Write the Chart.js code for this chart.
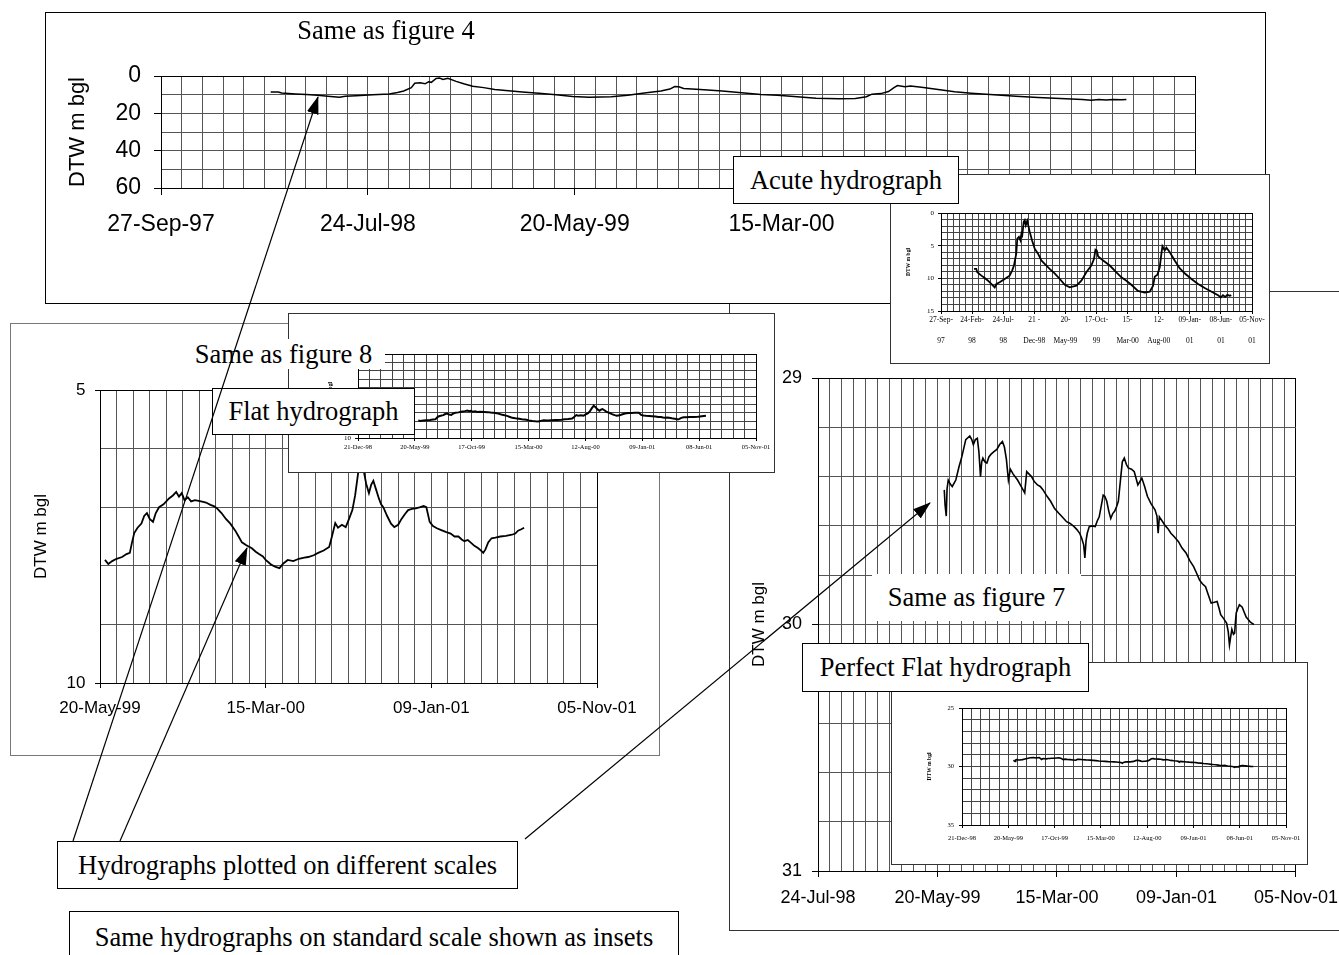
<!DOCTYPE html>
<html>
<head>
<meta charset="utf-8">
<title>Hydrographs plotted on different scales</title>
<script src="https://cdn.jsdelivr.net/npm/chart.js@4.4.1/dist/chart.umd.min.js"></script>
<style>
  html, body { margin: 0; padding: 0; background: #fff; }
  body { position: relative; width: 1339px; height: 955px; overflow: hidden; }
  .frame { position: absolute; background: #fff; border: 1px solid #000; box-sizing: border-box; }
  .frame canvas { position: absolute; left: 0; top: 0; }
  .tag {
    position: absolute; box-sizing: border-box; background: #fff; color: #000;
    font-family: 'Liberation Serif', 'Times New Roman', serif; font-size: 26.5px;
    white-space: nowrap; display: flex; align-items: center; justify-content: center;
    z-index: 10;
  }
  .tag.boxed { border: 1px solid #000; }
  .tag.plain { background: transparent; }
  #arrows { position: absolute; left: 0; top: 0; z-index: 20; }
</style>
</head>
<body>

<!-- frames, back to front -->
<div class="frame" id="frame7" style="left:729px;top:291px;width:620px;height:640px;z-index:1;border-color:#333"></div>
<div class="frame" id="frame4" style="left:45px;top:12px;width:1221px;height:292px;z-index:2"></div>
<div class="frame" id="inset4" style="left:890px;top:174px;width:380px;height:190px;z-index:3;border-color:#333"></div>
<div class="frame" id="frame8" style="left:10px;top:323px;width:650px;height:433px;z-index:4;border-color:#777"></div>
<div class="frame" id="inset8" style="left:288px;top:313px;width:487px;height:160px;z-index:5;border-color:#333"></div>
<div class="frame" id="inset7" style="left:891px;top:662px;width:417px;height:203px;z-index:6;border-color:#333"></div>

<!-- captions -->
<div class="tag plain" style="left:286px;top:13px;width:200px;height:34px;">Same as figure 4</div>
<div class="tag boxed" style="left:733px;top:156px;width:226px;height:48px;">Acute hydrograph</div>
<div class="tag" style="left:182px;top:339px;width:203px;height:30px;">Same as figure 8</div>
<div class="tag boxed" style="left:212px;top:388px;width:203px;height:47px;">Flat hydrograph</div>
<div class="tag" style="left:872px;top:574px;width:209px;height:47px;">Same as figure 7</div>
<div class="tag boxed" style="left:802px;top:643px;width:287px;height:49px;">Perfect Flat hydrograph</div>
<div class="tag boxed" style="left:57px;top:841px;width:461px;height:48px;">Hydrographs plotted on different scales</div>
<div class="tag boxed" style="left:69px;top:911px;width:610px;height:52px;">Same hydrographs on standard scale shown as insets</div>

<svg id="arrows" width="1339" height="955" viewBox="0 0 1339 955">
  <defs>
    <marker id="head" markerWidth="18" markerHeight="12" refX="17" refY="6" orient="auto" markerUnits="userSpaceOnUse">
      <path d="M0,0 L18,6 L0,12 Z" fill="#000"/>
    </marker>
  </defs>
  <line x1="73" y1="841" x2="318" y2="97" stroke="#000" stroke-width="1.2" marker-end="url(#head)"/>
  <line x1="120" y1="841" x2="247" y2="548" stroke="#000" stroke-width="1.2" marker-end="url(#head)"/>
  <line x1="525" y1="839" x2="930" y2="503" stroke="#000" stroke-width="1.2" marker-end="url(#head)"/>
</svg>

<script>
// Dates are spreadsheet serial day numbers (27-Sep-97 = 35700); depths are DTW in m below ground level.

// Figure 4 well: acute hydrograph
const fig4Dates = [
  35859, 35870, 35875, 35895, 35911, 35927, 35946, 35959, 35967, 35983,
  36007, 36031, 36043, 36052, 36063, 36068, 36076, 36083, 36088, 36092,
  36099, 36104, 36109, 36116, 36128, 36139, 36152, 36168, 36184, 36200,
  36224, 36248, 36273, 36297, 36321, 36353, 36377, 36401, 36425, 36438,
  36445, 36451, 36458, 36482, 36514, 36546, 36570, 36594, 36618, 36650,
  36683, 36707, 36723, 36731, 36744, 36755, 36763, 36768, 36779, 36787,
  36803, 36827, 36851, 36875, 36908, 36940, 36972, 37012, 37036, 37049,
  37060, 37071, 37081, 37093, 37100
];
const fig4Depth = [
  8.55, 8.55, 9.07, 9.59, 9.95, 10.36, 10.98, 11.39, 10.87, 10.61,
  10.10, 9.59, 8.81, 8.04, 6.23, 3.91, 3.66, 4.17, 3.14, 3.40,
  1.34, 1.08, 1.86, 1.19, 2.89, 4.17, 5.46, 6.23, 7.27, 7.78,
  8.55, 9.23, 10.10, 10.98, 11.39, 11.13, 10.36, 9.07, 8.04, 7.01,
  5.62, 5.72, 6.65, 7.27, 8.04, 9.07, 9.85, 10.36, 10.98, 11.91,
  12.17, 12.06, 11.13, 9.74, 9.43, 8.30, 6.23, 5.10, 5.72, 5.31,
  5.98, 7.27, 8.45, 9.23, 10.10, 10.87, 11.49, 12.17, 12.58, 12.94,
  12.58, 12.84, 12.53, 12.68, 12.58
];

// Figure 8 well: flat hydrograph
const fig8Dates = [
  36309, 36315, 36322, 36330, 36340, 36348, 36354, 36358, 36362, 36368,
  36375, 36380, 36385, 36390, 36396, 36401, 36407, 36415, 36425, 36432,
  36438, 36443, 36448, 36453, 36459, 36465, 36472, 36483, 36492, 36500,
  36506, 36512, 36520, 36528, 36536, 36545, 36551, 36557, 36565, 36575,
  36582, 36588, 36595, 36600, 36605, 36610, 36618, 36625, 36632, 36640,
  36650, 36660, 36670, 36677, 36687, 36695, 36705, 36715, 36720, 36726,
  36731, 36738, 36745, 36751, 36757, 36762, 36767, 36772, 36777, 36782,
  36787, 36791, 36795, 36800, 36805, 36809, 36813, 36820, 36827, 36833,
  36840, 36846, 36852, 36858, 36865, 36872, 36880, 36886, 36891, 36897,
  36903, 36910, 36918, 36926, 36935, 36942, 36949, 36955, 36960, 36966,
  36971, 36978, 36985, 36990, 36994, 36998, 37003, 37009, 37016, 37025,
  37035, 37046, 37052, 37057, 37062, 37068
];
const fig8Depth = [
  7.90, 7.97, 7.92, 7.88, 7.85, 7.80, 7.78, 7.60, 7.44, 7.35,
  7.28, 7.15, 7.10, 7.20, 7.25, 7.10, 7.00, 6.95, 6.85, 6.80,
  6.74, 6.82, 6.76, 6.88, 6.83, 6.90, 6.88, 6.90, 6.92, 6.96,
  6.98, 7.02, 7.10, 7.20, 7.28, 7.40, 7.50, 7.60, 7.65, 7.70,
  7.76, 7.80, 7.84, 7.90, 7.94, 7.98, 8.02, 8.04, 7.96, 7.90,
  7.92, 7.88, 7.86, 7.85, 7.82, 7.78, 7.74, 7.68, 7.50, 7.27,
  7.35, 7.30, 7.34, 7.20, 7.05, 6.80, 6.45, 6.15, 6.35, 6.60,
  6.76, 6.62, 6.55, 6.70, 6.85, 6.95, 7.00, 7.15, 7.28, 7.34,
  7.30, 7.20, 7.12, 7.05, 7.03, 7.02, 7.00, 6.98, 7.00, 7.25,
  7.32, 7.36, 7.39, 7.42, 7.45, 7.50, 7.50, 7.55, 7.58, 7.56,
  7.60, 7.66, 7.70, 7.74, 7.78, 7.72, 7.60, 7.53, 7.52, 7.50,
  7.49, 7.47, 7.45, 7.40, 7.38, 7.35
];

// Figure 7 well: perfect flat hydrograph
const fig7Dates = [
  36317, 36319, 36322, 36324, 36327, 36332, 36337, 36346, 36354, 36361,
  36371, 36381, 36386, 36390, 36395, 36400, 36404, 36408, 36411, 36414,
  36419, 36424, 36429, 36434, 36441, 36449, 36456, 36463, 36468, 36473,
  36478, 36483, 36490, 36501, 36510, 36519, 36524, 36530, 36536, 36543,
  36551, 36558, 36565, 36575, 36584, 36594, 36604, 36614, 36624, 36633,
  36643, 36650, 36657, 36662, 36667, 36670, 36673, 36676, 36681, 36688,
  36696, 36701, 36706, 36711, 36716, 36720, 36725, 36730, 36735, 36740,
  36745, 36750, 36754, 36759, 36764, 36769, 36774, 36779, 36787, 36794,
  36799, 36803, 36808, 36813, 36820, 36827, 36836, 36846, 36851, 36854,
  36857, 36864, 36871, 36878, 36886, 36895, 36905, 36914, 36924, 36933,
  36943, 36950, 36958, 36965, 36973, 36980, 36987, 36995, 37002, 37007,
  37011, 37018, 37026, 37030, 37033, 37036, 37039, 37043, 37046, 37048,
  37050, 37054, 37058, 37062, 37065, 37070, 37075, 37080, 37085, 37090, 37094
];
const fig7Depth = [
  29.454, 29.515, 29.56, 29.45, 29.414, 29.43, 29.44, 29.414, 29.36, 29.32,
  29.25, 29.235, 29.25, 29.27, 29.25, 29.245, 29.30, 29.40, 29.34, 29.325,
  29.34, 29.345, 29.32, 29.31, 29.30, 29.29, 29.27, 29.258, 29.28, 29.33,
  29.414, 29.37, 29.39, 29.414, 29.44, 29.466, 29.38, 29.39, 29.40, 29.42,
  29.434, 29.44, 29.454, 29.48, 29.50, 29.53, 29.548, 29.565, 29.583, 29.59,
  29.603, 29.615, 29.63, 29.65, 29.677, 29.73, 29.66, 29.63, 29.603, 29.60,
  29.603, 29.58, 29.563, 29.52, 29.475, 29.48, 29.50, 29.54, 29.57, 29.55,
  29.54, 29.52, 29.50, 29.42, 29.34, 29.325, 29.35, 29.365, 29.37, 29.38,
  29.41, 29.434, 29.42, 29.406, 29.44, 29.48, 29.51, 29.535, 29.56, 29.63,
  29.563, 29.58, 29.597, 29.61, 29.63, 29.645, 29.664, 29.69, 29.71, 29.74,
  29.765, 29.79, 29.82, 29.835, 29.847, 29.88, 29.913, 29.91, 29.907, 29.935,
  29.96, 29.975, 29.995, 30.03, 30.083, 30.05, 30.02, 30.04, 30.035, 29.99,
  29.953, 29.935, 29.92, 29.925, 29.93, 29.95, 29.97, 29.98, 29.989, 29.995, 30.0
];

// Date tick labels (every 300 days on the large plots, every 150 days on the insets)
const ticks300From97 = ['27-Sep-97', '24-Jul-98', '20-May-99', '15-Mar-00', '09-Jan-01', '05-Nov-01'];
const ticks300From98 = ['24-Jul-98', '20-May-99', '15-Mar-00', '09-Jan-01', '05-Nov-01'];
const ticks300From99 = ['20-May-99', '15-Mar-00', '09-Jan-01', '05-Nov-01'];
const ticks150From97 = [
  ['27-Sep-', '97'], ['24-Feb-', '98'], ['24-Jul-', '98'], ['21 -', 'Dec-98'],
  ['20-', 'May-99'], ['17-Oct-', '99'], ['15-', 'Mar-00'], ['12-', 'Aug-00'],
  ['09-Jan-', '01'], ['08-Jun-', '01'], ['05-Nov-', '01']
];
const ticks150From98 = ['21-Dec-98', '20-May-99', '17-Oct-99', '15-Mar-00', '12-Aug-00', '09-Jan-01', '08-Jun-01', '05-Nov-01'];

const SANS = "'Liberation Sans', Arial, sans-serif";
const SERIF = "'Liberation Serif', 'Times New Roman', serif";
Chart.defaults.font.family = SANS;
Chart.defaults.color = '#000';

// One hydrograph panel: plot box given in page pixels, axis layout pinned with afterFit.
function hydrograph(frameId, o) {
  const frame = document.getElementById(frameId);
  const ox = frame.offsetLeft + 1, oy = frame.offsetTop + 1;
  const W = frame.clientWidth, H = frame.clientHeight;
  const cv = document.createElement('canvas');
  cv.width = W; cv.height = H;
  cv.style.width = W + 'px'; cv.style.height = H + 'px';
  frame.appendChild(cv);

  const [pl, pt, pr, pb] = o.plot;
  const padLeft = o.yTitleX - ox - o.yTitleSize / 2;
  const yAxisW = pl - ox - padLeft;
  const xAxisH = oy + H - pb;

  const xTicks = [];
  for (let v = o.xMin; v <= o.xMax; v += o.xMinor) xTicks.push(v);
  const xEvery = Math.round(o.xMajor / o.xMinor);
  const nY = Math.round((o.yMax - o.yMin) / o.yMinor);
  const yTicks = [];
  for (let i = 0; i <= nY; i++) yTicks.push(Math.round((o.yMin + i * o.yMinor) * 1000) / 1000);
  const yEvery = Math.round(o.yMajor / o.yMinor);

  const gridColor = (n) => (ctx) => (ctx.index === 0 || ctx.index === n) ? '#000' : o.grid;

  new Chart(cv, {
    type: 'line',
    data: {
      datasets: [{
        data: o.x.map((x, i) => ({ x, y: o.y[i] })),
        borderColor: '#000',
        borderWidth: o.lineWidth,
        pointRadius: 0,
        tension: 0,
        fill: false
      }]
    },
    options: {
      responsive: false,
      animation: false,
      devicePixelRatio: 1,
      events: [],
      layout: { padding: { left: padLeft, top: pt - oy, right: ox + W - pr, bottom: 0 } },
      plugins: { legend: { display: false }, tooltip: { enabled: false } },
      scales: {
        x: {
          type: 'linear', min: o.xMin, max: o.xMax, offset: false,
          afterBuildTicks: (s) => { s.ticks = xTicks.map(v => ({ value: v })); },
          afterFit: (s) => { s.height = xAxisH; },
          ticks: {
            autoSkip: false, maxRotation: 0, minRotation: 0,
            padding: o.xPad, font: o.xFont, color: '#000',
            callback: (v, i) => (i % xEvery === 0 ? o.xLabels[i / xEvery] : '')
          },
          grid: {
            color: gridColor(xTicks.length - 1), lineWidth: 1,
            tickLength: o.tick,
            tickColor: (ctx) => (ctx.index % xEvery === 0 ? '#000' : 'rgba(0,0,0,0)')
          },
          border: { color: '#000', width: 1 }
        },
        y: {
          type: 'linear', min: o.yMin, max: o.yMax, reverse: true,
          afterBuildTicks: (s) => { s.ticks = yTicks.map(v => ({ value: v })); },
          afterFit: (s) => { s.width = yAxisW; },
          ticks: {
            autoSkip: false, padding: o.yPad, font: o.yFont, color: '#000',
            callback: (v, i) => (i % yEvery === 0 ? String(v) : '')
          },
          grid: {
            color: gridColor(yTicks.length - 1), lineWidth: 1,
            tickLength: o.tick,
            tickColor: (ctx) => (ctx.index % yEvery === 0 ? '#000' : 'rgba(0,0,0,0)')
          },
          border: { color: '#000', width: 1 },
          title: {
            display: true, text: 'DTW m bgl', color: '#000', padding: 0,
            font: Object.assign({ lineHeight: 1, size: o.yTitleSize }, o.yTitleFont)
          }
        }
      }
    }
  });
}

// Figure 7 panel (29 to 31 m)
hydrograph('frame7', {
  plot: [818, 378, 1298, 871],
  x: fig7Dates, y: fig7Depth, lineWidth: 1.6, grid: '#555',
  xMin: 36000, xMax: 37200, xMinor: 30, xMajor: 300, xLabels: ticks300From98,
  xPad: 10, xFont: { size: 18, family: SANS },
  yMin: 29, yMax: 31, yMinor: 0.2, yMajor: 1, yPad: 10, yFont: { size: 18, family: SANS },
  tick: 6, yTitleX: 759, yTitleSize: 17, yTitleFont: { family: SANS }
});

// Figure 4 panel (0 to 60 m)
hydrograph('frame4', {
  plot: [161, 76, 1205, 188],
  x: fig4Dates, y: fig4Depth, lineWidth: 1.5, grid: '#555',
  xMin: 35700, xMax: 37200, xMinor: 30, xMajor: 300, xLabels: ticks300From97,
  xPad: 16, xFont: { size: 23, family: SANS },
  yMin: 0, yMax: 60, yMinor: 10, yMajor: 20, yPad: 13, yFont: { size: 23, family: SANS },
  tick: 7, yTitleX: 77.5, yTitleSize: 22, yTitleFont: { family: SANS }
});

// Figure 4 on the standard 15 m scale
hydrograph('inset4', {
  plot: [941, 213, 1252, 311],
  x: fig4Dates, y: fig4Depth, lineWidth: 1.8, grid: '#444',
  xMin: 35700, xMax: 37200, xMinor: 30, xMajor: 150, xLabels: ticks150From97,
  xPad: -4.5, xFont: { size: 7.5, family: SERIF, lineHeight: '21px' },
  yMin: 0, yMax: 15, yMinor: 1, yMajor: 5, yPad: 4, yFont: { size: 7, family: SERIF },
  tick: 3, yTitleX: 909, yTitleSize: 5.5, yTitleFont: { family: SERIF, weight: 'bold' }
});

// Figure 8 panel (5 to 10 m)
hydrograph('frame8', {
  plot: [100, 390, 597, 683],
  x: fig8Dates, y: fig8Depth, lineWidth: 1.8, grid: '#555',
  xMin: 36300, xMax: 37200, xMinor: 30, xMajor: 300, xLabels: ticks300From99,
  xPad: 10.5, xFont: { size: 17, family: SANS },
  yMin: 5, yMax: 10, yMinor: 1, yMajor: 5, yPad: 9.5, yFont: { size: 17, family: SANS },
  tick: 5, yTitleX: 41, yTitleSize: 17, yTitleFont: { family: SANS }
});

// Figure 8 on the standard scale
hydrograph('inset8', {
  plot: [358, 354, 756, 438],
  x: fig8Dates, y: fig8Depth, lineWidth: 2, grid: '#444',
  xMin: 36150, xMax: 37200, xMinor: 30, xMajor: 150, xLabels: ticks150From98,
  xPad: 2, xFont: { size: 6.5, family: SERIF },
  yMin: 0, yMax: 10, yMinor: 1, yMajor: 5, yPad: 4, yFont: { size: 7, family: SERIF },
  tick: 3, yTitleX: 331, yTitleSize: 5.5, yTitleFont: { family: SERIF, weight: 'bold' }
});

// Figure 7 on the standard scale
hydrograph('inset7', {
  plot: [962, 708, 1286, 825],
  x: fig7Dates, y: fig7Depth, lineWidth: 1.6, grid: '#444',
  xMin: 36150, xMax: 37200, xMinor: 30, xMajor: 150, xLabels: ticks150From98,
  xPad: 6, xFont: { size: 6.5, family: SERIF },
  yMin: 25, yMax: 35, yMinor: 1, yMajor: 5, yPad: 5, yFont: { size: 6.5, family: SERIF },
  tick: 3, yTitleX: 930, yTitleSize: 5.5, yTitleFont: { family: SERIF, weight: 'bold' }
});
</script>
</body>
</html>
